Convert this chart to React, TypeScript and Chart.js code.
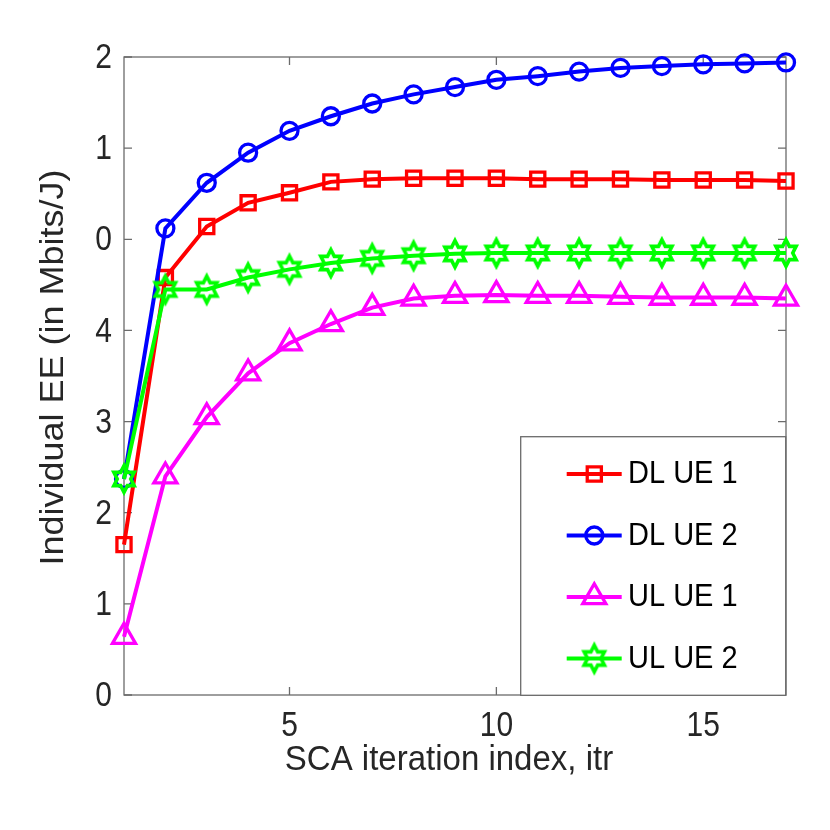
import React, { useEffect, useRef } from "react";
import { Chart, registerables } from "chart.js";

Chart.register(...registerables);

// ---- data ----
const iterations = [1, 2, 3, 4, 5, 6, 7, 8, 9, 10, 11, 12, 13, 14, 15, 16, 17];
const dlUe1 = [1.65, 4.58, 5.14, 5.40, 5.51, 5.63, 5.66, 5.67, 5.67, 5.67, 5.66, 5.66, 5.66, 5.65, 5.65, 5.65, 5.64];
const dlUe2 = [2.37, 5.12, 5.62, 5.95, 6.19, 6.35, 6.49, 6.59, 6.67, 6.75, 6.79, 6.84, 6.88, 6.90, 6.92, 6.93, 6.94];
const ulUe1 = [0.64, 2.40, 3.05, 3.53, 3.86, 4.07, 4.25, 4.35, 4.38, 4.39, 4.38, 4.38, 4.37, 4.36, 4.36, 4.36, 4.35];
const ulUe2 = [2.37, 4.45, 4.45, 4.58, 4.67, 4.74, 4.79, 4.82, 4.84, 4.85, 4.85, 4.85, 4.85, 4.85, 4.85, 4.85, 4.85];
const seriesNames = ["DL UE 1", "DL UE 2", "UL UE 1", "UL UE 2"];
const xTickValues = [5, 10, 15];
const yTickLabels = ["0", "1", "2", "3", "4", "0", "1", "2"];
const xTitle = "SCA iteration index, itr";
const yTitle = "Individual EE (in Mbits/J)";

const FONT = "'Liberation Sans', Arial, Helvetica, sans-serif";
const AXIS_COLOR = "#6b6b6b";
const TEXT_COLOR = "#262626";

function makeHexagram(color: string): HTMLCanvasElement {
  const c = document.createElement("canvas");
  c.width = 34;
  c.height = 36;
  const g = c.getContext("2d")!;
  const cx = 17, cy = 18, R = 13.3, r = R / Math.sqrt(3), sx = 0.88;
  g.beginPath();
  for (let i = 0; i < 12; i++) {
    const ang = -Math.PI / 2 + (i * Math.PI) / 6;
    const rad = i % 2 === 0 ? R : r;
    const px = cx + sx * rad * Math.cos(ang);
    const py = cy + rad * Math.sin(ang);
    if (i === 0) g.moveTo(px, py);
    else g.lineTo(px, py);
  }
  g.closePath();
  g.strokeStyle = color;
  g.lineWidth = 3.6;
  g.lineJoin = "miter";
  g.stroke();
  return c;
}

const toPts = (arr: number[]) => iterations.map((x, i) => ({ x, y: arr[i] }));

function stretchedText(
  ctx: CanvasRenderingContext2D,
  text: string,
  x: number,
  y: number,
  size: number,
  align: CanvasTextAlign,
  sy: number,
  color: string
) {
  ctx.save();
  ctx.translate(x, y);
  ctx.scale(1, sy);
  ctx.font = `${size}px ${FONT}`;
  ctx.fillStyle = color;
  ctx.textAlign = align;
  ctx.textBaseline = "middle";
  ctx.fillText(text, 0, 0);
  ctx.restore();
}

function drawPointLocal(ctx: CanvasRenderingContext2D, style: any, radius: number, x: number, y: number) {
  if (style instanceof HTMLCanvasElement) {
    ctx.drawImage(style, x - style.width / 2, y - style.height / 2);
    return;
  }
  ctx.beginPath();
  if (style === "circle") {
    ctx.arc(x, y, radius, 0, Math.PI * 2);
  } else if (style === "rect") {
    const s = Math.SQRT1_2 * radius;
    ctx.rect(x - s, y - s, 2 * s, 2 * s);
  } else if (style === "triangle") {
    let rad = 0;
    ctx.moveTo(x + Math.sin(rad) * radius, y - Math.cos(rad) * radius);
    rad += (2 * Math.PI) / 3;
    ctx.lineTo(x + Math.sin(rad) * radius, y - Math.cos(rad) * radius);
    rad += (2 * Math.PI) / 3;
    ctx.lineTo(x + Math.sin(rad) * radius, y - Math.cos(rad) * radius);
    ctx.closePath();
  }
  ctx.stroke();
}

const boxPlugin = {
  id: "matlabBox",
  beforeDatasetsDraw(chart: any) {
    const { ctx, chartArea: a, scales } = chart;
    ctx.save();
    ctx.strokeStyle = AXIS_COLOR;
    ctx.lineWidth = 1.3;
    ctx.strokeRect(a.left, a.top, a.right - a.left, a.bottom - a.top);
    ctx.beginPath();
    const tl = 8;
    for (const t of scales.x.ticks) {
      const px = scales.x.getPixelForValue(t.value);
      ctx.moveTo(px, a.bottom);
      ctx.lineTo(px, a.bottom - tl);
      ctx.moveTo(px, a.top);
      ctx.lineTo(px, a.top + tl);
    }
    for (const t of scales.y.ticks) {
      const py = scales.y.getPixelForValue(t.value);
      ctx.moveTo(a.left, py);
      ctx.lineTo(a.left + tl, py);
      ctx.moveTo(a.right, py);
      ctx.lineTo(a.right - tl, py);
    }
    ctx.stroke();
    ctx.restore();

    for (const t of scales.x.ticks) {
      const px = scales.x.getPixelForValue(t.value);
      stretchedText(ctx, String(t.value), px, 726, 30, "center", 1.17, TEXT_COLOR);
    }
    for (const t of scales.y.ticks) {
      const py = scales.y.getPixelForValue(t.value);
      const lbl = yTickLabels[Math.round(Number(t.value))] ?? "";
      stretchedText(ctx, lbl, 112, py + 1.5, 30, "right", 1.17, TEXT_COLOR);
    }
  },
  afterDatasetsDraw(chart: any) {
    const { ctx } = chart;
    const lx = 520.7, ly = 436.7, lw = 265, lh = 258.6;
    ctx.save();
    ctx.fillStyle = "#ffffff";
    ctx.fillRect(lx, ly, lw, lh);
    ctx.strokeStyle = AXIS_COLOR;
    ctx.lineWidth = 1.3;
    ctx.strokeRect(lx, ly, lw, lh);
    const rowsY = [474, 535.5, 597, 658.5];
    const ds = chart.data.datasets;
    for (let i = 0; i < ds.length; i++) {
      const d = ds[i];
      const y = rowsY[i];
      ctx.strokeStyle = d.borderColor;
      ctx.lineWidth = d.borderWidth;
      ctx.beginPath();
      ctx.moveTo(566.7, y);
      ctx.lineTo(621.7, y);
      ctx.stroke();
      ctx.lineWidth = d.pointBorderWidth;
      ctx.strokeStyle = d.pointBorderColor;
      drawPointLocal(ctx, d.pointStyle, d.pointRadius, 594.3, y);
      stretchedText(ctx, d.label, 628, y + 0.5, 29, "left", 1.1, "#000000");
    }
    ctx.restore();
  },
  afterDraw(chart: any) {
    const { ctx } = chart;
    ctx.save();
    ctx.fillStyle = TEXT_COLOR;
    ctx.textAlign = "center";
    ctx.textBaseline = "alphabetic";
    ctx.font = `33px ${FONT}`;
    ctx.save();
    ctx.translate(449, 770);
    ctx.scale(1, 1.08);
    ctx.fillText(xTitle, 0, 0);
    ctx.restore();
    ctx.translate(63, 367.5);
    ctx.rotate(-Math.PI / 2);
    ctx.scale(1.09, 1);
    ctx.font = `33px ${FONT}`;
    ctx.fillText(yTitle, 0, 0);
    ctx.restore();
  },
};

export default function App() {
  const ref = useRef<HTMLCanvasElement>(null);
  useEffect(() => {
    if (!ref.current) return;
    const hex = makeHexagram("#00ff00");
    const colors = ["#ff0000", "#0000ff", "#ff00ff", "#00ff00"];
    const styles: any[] = ["rect", "circle", "triangle", hex];
    const radii = [10, 8.5, 13.3, 13];
    const arrays = [dlUe1, dlUe2, ulUe1, ulUe2];
    const chart = new Chart(ref.current, {
      type: "line",
      data: {
        datasets: arrays.map((arr, i) => ({
          label: seriesNames[i],
          data: toPts(arr),
          borderColor: colors[i],
          backgroundColor: "rgba(0,0,0,0)",
          borderWidth: 4,
          pointStyle: styles[i],
          pointRadius: radii[i],
          pointBorderWidth: 3.3,
          pointBorderColor: colors[i],
          pointBackgroundColor: "rgba(0,0,0,0)",
          tension: 0,
          clip: false as any,
          order: 4 - i,
        })),
      },
      plugins: [boxPlugin],
      options: {
        animation: false,
        responsive: false,
        layout: { padding: { left: 0, top: 57, right: 44, bottom: 0 } },
        plugins: { legend: { display: false }, tooltip: { enabled: false } },
        scales: {
          x: {
            type: "linear",
            min: 1,
            max: 17,
            grid: { display: false, drawTicks: false },
            border: { display: false },
            afterBuildTicks: (scale: any) => {
              scale.ticks = xTickValues.map((v) => ({ value: v }));
            },
            afterFit: (scale: any) => {
              scale.height = 135;
            },
            ticks: { display: false, autoSkip: false, maxRotation: 0 },
          },
          y: {
            type: "linear",
            min: 0,
            max: 7,
            grid: { display: false, drawTicks: false },
            border: { display: false },
            afterFit: (scale: any) => {
              scale.width = 124;
            },
            ticks: { display: false, stepSize: 1 },
          },
        },
      },
    });
    return () => chart.destroy();
  }, []);
  return (
    <div style={{ position: "fixed", left: 0, top: 0, width: 830, height: 830, background: "#fff" }}>
      <canvas ref={ref} width={830} height={830} />
    </div>
  );
}
